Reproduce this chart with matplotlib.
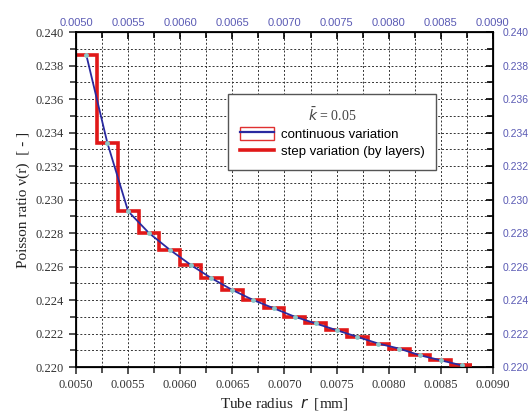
import matplotlib
matplotlib.use('Agg')
import matplotlib.pyplot as plt
from matplotlib.lines import Line2D
from matplotlib.patches import Rectangle
from matplotlib.ticker import MultipleLocator, FormatStrFormatter

# layer boundaries and Poisson ratio at each layer mid-radius
layer_edges = [0.0050, 0.0052, 0.0054, 0.0056, 0.0058, 0.0060, 0.0062, 0.0064, 0.0066, 0.0068,
               0.0070, 0.0072, 0.0074, 0.0076, 0.0078, 0.0080, 0.0082, 0.0084, 0.0086, 0.0088]
r_mid = [0.0051, 0.0053, 0.0055, 0.0057, 0.0059, 0.0061, 0.0063, 0.0065, 0.0067, 0.0069,
         0.0071, 0.0073, 0.0075, 0.0077, 0.0079, 0.0081, 0.0083, 0.0085, 0.0087]
nu = [0.2386, 0.2334, 0.2293, 0.2280, 0.2270, 0.2261, 0.2253, 0.2246, 0.2240, 0.2235,
      0.2230, 0.2226, 0.2222, 0.2218, 0.2214, 0.2211, 0.2207, 0.2204, 0.2201]

serif = 'Liberation Serif'
sans = 'Liberation Sans'
blue_lbl = '#5a5ab4'

fig = plt.figure(figsize=(5.3, 4.12), dpi=100)
ax = fig.add_axes([0.1434, 0.1092, 0.7866, 0.8131])

ax.stairs(nu, layer_edges, baseline=None, color='#e01818', lw=2.6, zorder=3)
ax.plot(r_mid, nu, color='#2a2aa0', lw=1.3, zorder=4,
        marker='o', ms=2.5, mfc='#8cc8c8', mec='#8cc8c8')

ax.set_xlim(0.0050, 0.0090)
ax.set_ylim(0.220, 0.240)
ax.xaxis.set_major_locator(MultipleLocator(0.0005))
ax.xaxis.set_minor_locator(MultipleLocator(0.00025))
ax.yaxis.set_major_locator(MultipleLocator(0.002))
ax.yaxis.set_minor_locator(MultipleLocator(0.001))
ax.xaxis.set_major_formatter(FormatStrFormatter('%.4f'))
ax.yaxis.set_major_formatter(FormatStrFormatter('%.3f'))
ax.grid(which='both', color='#333333', ls=(0, (2, 2)), lw=0.7)
ax.tick_params(which='both', direction='out', width=1.2, labelsize=9, colors='#333333')
ax.tick_params(which='major', length=5)
ax.tick_params(which='minor', length=4)
for lab in ax.get_xticklabels() + ax.get_yticklabels():
    lab.set_fontfamily(serif)
for s in ax.spines.values():
    s.set_linewidth(1.3)

ax.set_xlabel('Tube radius  $r$  [mm]', fontfamily=serif, fontsize=11, color='#222222')
ax.set_ylabel('Poisson ratio ν(r)  [ - ]', fontfamily=serif, fontsize=11, color='#222222')

# top and right duplicate axes
axt = ax.twiny()
axt.set_xlim(ax.get_xlim())
axt.xaxis.set_major_locator(MultipleLocator(0.0005))
axt.xaxis.set_minor_locator(MultipleLocator(0.00025))
axt.xaxis.set_major_formatter(FormatStrFormatter('%.4f'))
axt.tick_params(which='both', direction='in', width=1.2, labelsize=8, labelcolor=blue_lbl, pad=3)
axt.tick_params(which='major', length=5)
axt.tick_params(which='minor', length=4)
axr = ax.twinx()
axr.set_ylim(ax.get_ylim())
axr.yaxis.set_major_locator(MultipleLocator(0.002))
axr.yaxis.set_minor_locator(MultipleLocator(0.001))
axr.yaxis.set_major_formatter(FormatStrFormatter('%.3f'))
axr.tick_params(which='both', direction='in', width=1.2, labelsize=7.5, labelcolor=blue_lbl, pad=7)
axr.tick_params(which='major', length=5)
axr.tick_params(which='minor', length=4)
for lab in axt.get_xticklabels() + axr.get_yticklabels():
    lab.set_fontfamily(sans)

# legend
h_cont = (Rectangle((0, 0), 1, 1, fc='white', ec='#e03030', lw=1.0),
          Line2D([], [], color='#2a2aa0', lw=1.6))
h_step = Line2D([], [], color='#e01818', lw=2.6)
leg = ax.legend([h_cont, h_step], ['continuous variation', 'step variation (by layers)'],
                loc='upper left', bbox_to_anchor=(0.364, 0.815), borderaxespad=0,
                fancybox=False, edgecolor='#555555', framealpha=1, borderpad=0.9,
                handlelength=2.6, handleheight=1.1, handletextpad=0.5, labelspacing=0.25,
                title=r'$\bar{k}$ = 0.05', title_fontproperties={'family': serif, 'size': 10},
                prop={'family': sans, 'size': 9.5})
leg.get_title().set_color('#444444')
leg.get_frame().set_linewidth(1.0)
leg.set_zorder(10)

fig.savefig('out.png', dpi=100)
